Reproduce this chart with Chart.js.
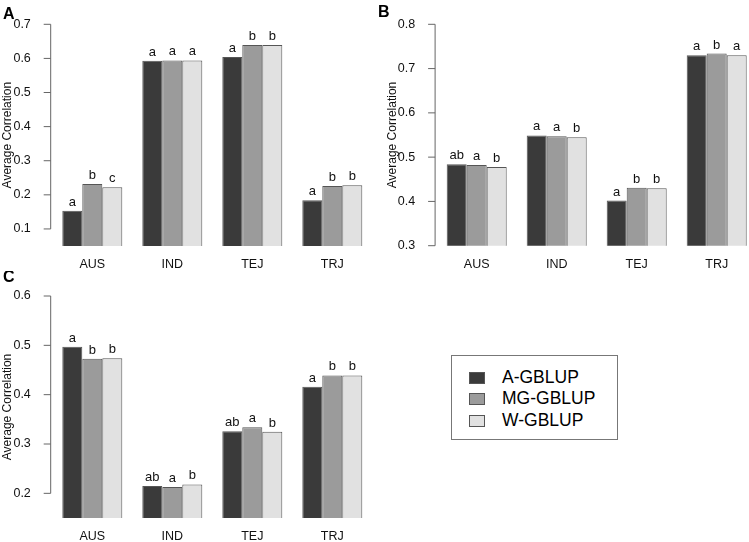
<!DOCTYPE html>
<html>
<head>
<meta charset="utf-8">
<script src="https://cdn.jsdelivr.net/npm/chart.js@4.4.0/dist/chart.umd.min.js"></script>
<style>
  html, body { margin: 0; padding: 0; background: #fff; overflow: hidden; }
  #page { position: relative; width: 749px; height: 542px; overflow: hidden; background: #fff;
          font-family: "Liberation Sans", Arial, sans-serif; }
  canvas { position: absolute; }
  #legend { position: absolute; left: 451px; top: 355px; width: 165px; height: 83px;
            border: 1.5px solid #777; box-sizing: content-box; }
  .row { position: absolute; left: 0; height: 21px; font-size: 17.5px; color: #000; white-space: nowrap; }
  .sw { position: absolute; left: 17px; width: 14px; height: 10px; border: 1px solid #555; }
  .lab { position: absolute; left: 50px; line-height: 21px; top: 0; }
</style>
</head>
<body>
<div id="page">
  <canvas id="chartA" width="375" height="271" style="left:0;top:0"></canvas>
  <canvas id="chartB" width="390" height="271" style="left:375px;top:0"></canvas>
  <canvas id="chartC" width="375" height="271" style="left:0;top:271px"></canvas>
  <div id="legend"></div>
</div>
<script>
const categories = ['AUS', 'IND', 'TEJ', 'TRJ'];
const seriesNames = ['A-GBLUP', 'MG-GBLUP', 'W-GBLUP'];
const seriesColors = ['#3a3a3a', '#9b9b9b', '#e1e1e1'];

// panel A
const aGblupA = [0.153, 0.593, 0.604, 0.184];
const mgGblupA = [0.232, 0.594, 0.639, 0.226];
const wGblupA = [0.222, 0.594, 0.639, 0.228];
const lettersA = [['a', 'a', 'a', 'a'], ['b', 'a', 'b', 'b'], ['c', 'a', 'b', 'b']];
const ticksA = [0.1, 0.2, 0.3, 0.4, 0.5, 0.6, 0.7];

// panel B
const aGblupB = [0.484, 0.549, 0.402, 0.730];
const mgGblupB = [0.482, 0.547, 0.431, 0.734];
const wGblupB = [0.478, 0.545, 0.430, 0.730];
const lettersB = [['ab', 'a', 'a', 'a'], ['a', 'a', 'b', 'b'], ['b', 'b', 'b', 'a']];
const ticksB = [0.3, 0.4, 0.5, 0.6, 0.7, 0.8];

// panel C
const aGblupC = [0.497, 0.215, 0.326, 0.416];
const mgGblupC = [0.473, 0.213, 0.334, 0.439];
const wGblupC = [0.474, 0.218, 0.325, 0.439];
const lettersC = [['a', 'ab', 'ab', 'a'], ['b', 'a', 'a', 'b'], ['b', 'b', 'b', 'b']];
const ticksC = [0.2, 0.3, 0.4, 0.5, 0.6];

const FONT = '"Liberation Sans", Arial, sans-serif';

// draws the R-style axis line, tick marks, panel tag and letters above bars
const panelDecor = {
  id: 'panelDecor',
  afterDatasetsDraw(chart, args, opts) {
    const ctx = chart.ctx;
    const y = chart.scales.y;
    const ax = chart.chartArea.left - 1.6;
    ctx.save();
    ctx.strokeStyle = '#666';
    ctx.lineWidth = 1;
    ctx.beginPath();
    const t0 = y.getPixelForValue(opts.ticks[0]);
    const t1 = y.getPixelForValue(opts.ticks[opts.ticks.length - 1]);
    ctx.moveTo(ax, t0);
    ctx.lineTo(ax, t1);
    opts.ticks.forEach(v => {
      const p = y.getPixelForValue(v);
      ctx.moveTo(ax - 7, p);
      ctx.lineTo(ax, p);
    });
    ctx.stroke();

    ctx.fillStyle = '#111';
    ctx.font = '13px ' + FONT;
    ctx.textAlign = 'center';
    ctx.textBaseline = 'alphabetic';
    chart.data.datasets.forEach((ds, i) => {
      chart.getDatasetMeta(i).data.forEach((bar, j) => {
        ctx.fillText(opts.letters[i][j], bar.x, bar.y - 5);
      });
    });

    ctx.font = 'bold 16px ' + FONT;
    ctx.textAlign = 'left';
    ctx.fillStyle = '#000';
    ctx.fillText(opts.tag, 3, opts.tagY);
    ctx.restore();
  }
};

function makePanel(id, series, letters, ticks, min, max, box) {
  new Chart(document.getElementById(id), {
    type: 'bar',
    data: {
      labels: categories,
      datasets: series.map((vals, i) => ({
        label: seriesNames[i],
        data: vals,
        backgroundColor: seriesColors[i],
        borderColor: '#555',
        borderWidth: 1,
        categoryPercentage: 0.75,
        barPercentage: 1.0
      }))
    },
    options: {
      responsive: false,
      animation: false,
      layout: { padding: { top: box.top, right: box.right, left: 0, bottom: 0 } },
      plugins: {
        legend: { display: false },
        tooltip: { enabled: false },
        panelDecor: { ticks: ticks, letters: letters, tag: box.tag, tagY: box.tagY }
      },
      scales: {
        x: {
          grid: { display: false },
          border: { display: false },
          ticks: { color: '#111', font: { family: FONT, size: 12.5 }, padding: 3.5 },
          afterFit: s => { s.height = box.xh; }
        },
        y: {
          min: min,
          max: max,
          grid: { display: false },
          border: { display: false },
          afterBuildTicks: s => { s.ticks = ticks.map(v => ({ value: v })); },
          ticks: { color: '#111', font: { family: FONT, size: 12.5 }, padding: 13.5,
                   callback: v => v.toFixed(1) },
          title: { display: true, text: 'Average Correlation', color: '#111',
                   font: { family: FONT, size: 12 }, padding: { top: box.titlePad, bottom: 0 } },
          afterFit: s => { s.width = box.yw; }
        }
      }
    },
    plugins: [panelDecor]
  });
}

makePanel('chartA', [aGblupA, mgGblupA, wGblupA], lettersA, ticksA, 0.05, 0.7,
  { top: 24.3, right: 2.7, xh: 25, yw: 52.3, titlePad: 0.5, tag: 'A', tagY: 18.5 });
makePanel('chartB', [aGblupB, mgGblupB, wGblupB], lettersB, ticksB, 0.3, 0.8,
  { top: 24.3, right: 8.3, xh: 25.3, yw: 61.7, titlePad: 10.5, tag: 'B', tagY: 17 });
makePanel('chartC', [aGblupC, mgGblupC, wGblupC], lettersC, ticksC, 0.15, 0.6,
  { top: 25, right: 2.7, xh: 24, yw: 52.3, titlePad: 0.5, tag: 'C', tagY: 11 });

// legend
const legend = document.getElementById('legend');
seriesNames.forEach((name, i) => {
  const row = document.createElement('div');
  row.className = 'row';
  row.style.top = (11 + i * 21.3) + 'px';
  row.innerHTML = '<div class="sw" style="top:5px;background:' + seriesColors[i] + '"></div>' +
                  '<div class="lab">' + name + '</div>';
  legend.appendChild(row);
});
</script>
</body>
</html>
